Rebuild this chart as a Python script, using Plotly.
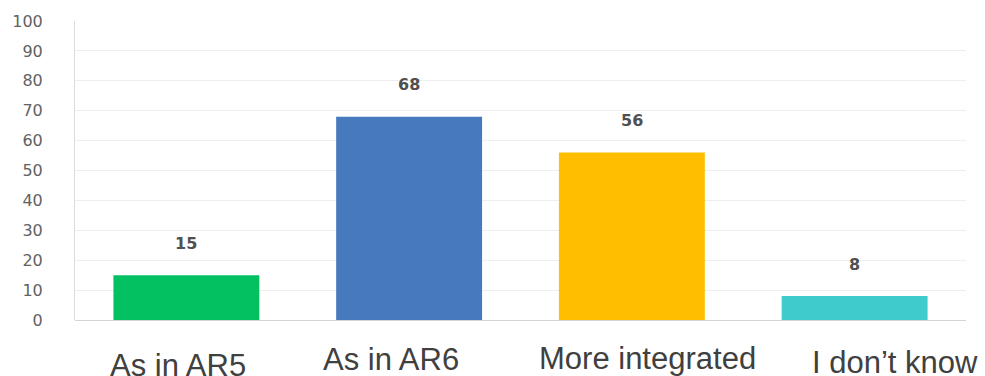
import plotly.graph_objects as go

categories = ["As in AR5", "As in AR6", "More integrated", "I don't know"]
category_labels = ["As in AR5", "As in AR6", "More integrated", "I don\u2019t know"]
values = [15, 68, 56, 8]
bar_colors = ["#03C160", "#4679BD", "#FFBF00", "#3FCACB"]
y_ticks = list(range(0, 101, 10))

# horizontal / vertical nudges of the category captions (px)
label_dx = [-8, -18, 16, 40]
label_dy = [-45, -39, -38, -42]

fig = go.Figure(
    go.Bar(
        x=categories,
        y=values,
        marker=dict(color=bar_colors, line=dict(width=0)),
        width=0.655,
        hoverinfo="skip",
    )
)

annotations = []
for cat, v in zip(categories, values):
    annotations.append(dict(
        x=cat, y=v, xref="x", yref="y", text=str(v), showarrow=False,
        yshift=32, font=dict(family="DejaVu Sans", size=16, color="#505050", weight="bold"),
    ))
for cat, lab, dx, dy in zip(categories, category_labels, label_dx, label_dy):
    annotations.append(dict(
        x=cat, y=0, xref="x", yref="paper", text=lab, showarrow=False,
        xshift=dx, yshift=dy, yanchor="middle",
        font=dict(family="Liberation Sans, Arial", size=31, color="#404040"),
    ))

fig.update_layout(
    width=985, height=376,
    margin=dict(l=74, r=19, t=15, b=56),
    paper_bgcolor="white", plot_bgcolor="white",
    showlegend=False,
    annotations=annotations,
    xaxis=dict(showticklabels=False, showgrid=False, showline=False, ticks="",
               range=[-0.5, 3.5]),
    yaxis=dict(range=[0, 100], tickvals=y_ticks, showgrid=True, gridcolor="#EEEEEE",
               gridwidth=1, zeroline=True, zerolinecolor="#D4D4D4", zerolinewidth=1,
               showline=True, linecolor="#DCDCDC", linewidth=1, ticks="",
               ticklabelstandoff=28,
               tickfont=dict(family="DejaVu Sans", size=16, color="#626262")),
)

fig.write_html("out.html")
